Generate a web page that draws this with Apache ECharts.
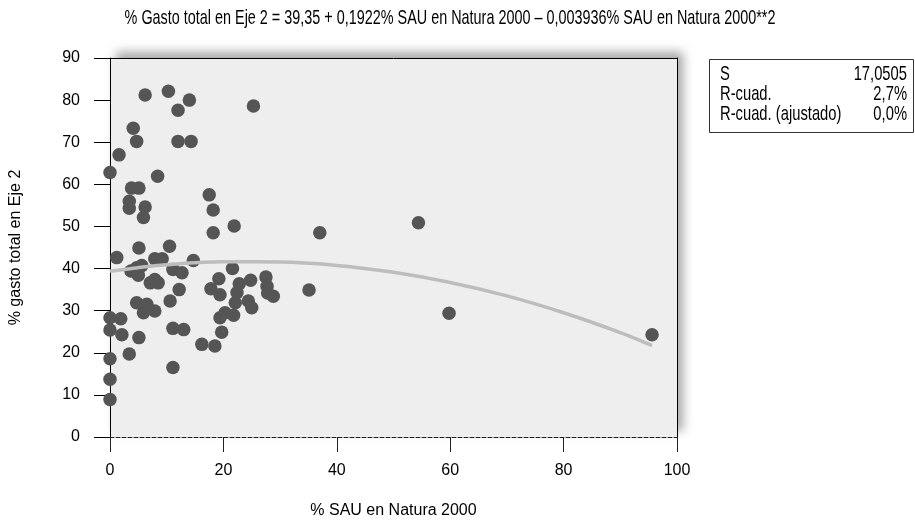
<!DOCTYPE html>
<html><head><meta charset="utf-8">
<script src="https://cdn.jsdelivr.net/npm/echarts@6/dist/echarts.min.js"></script>
<style>html,body{margin:0;padding:0;background:#fff}#c{width:915px;height:525px}</style>
</head><body><div id="c"></div>
<script>
// % SAU en Natura 2000 (x) and % gasto total en Eje 2 (y)
const sauNatura = [0, 1.6, 6.2, 10.3, 14.0, 12.0, 25.3, 4.1, 4.7, 12.0, 14.3, 8.4, 3.8, 5.1, 3.4, 3.4, 6.2, 5.9,
  17.5, 18.2, 21.9, 18.2, 37.0, 54.4, 59.8, 95.6, 35.1, 1.2, 5.1, 10.5, 7.9, 9.2, 14.7, 3.7, 4.7, 5.6, 5.0,
  11.1, 12.7, 7.1, 8.5, 7.9, 12.2, 10.6, 4.7, 6.5, 5.9, 7.9, 0, 1.9, 0, 2.1, 5.1, 11.1, 13.0, 3.4, 0, 0, 0,
  11.1, 16.2, 18.5, 21.6, 19.2, 17.8, 19.4, 22.8, 24.8, 27.5, 27.7, 27.8, 28.8, 22.4, 22.1, 24.4, 25.0,
  20.3, 19.4, 21.8, 19.7];
const gastoEje2 = [62.8, 67.0, 81.2, 82.1, 80.0, 77.6, 78.6, 73.3, 70.2, 70.2, 70.2, 61.9, 59.1, 59.1, 56.0, 54.3, 54.6, 52.1,
  57.5, 53.9, 50.1, 48.5, 48.5, 50.9, 29.4, 24.3, 34.9, 42.6, 44.9, 45.3, 42.3, 42.3, 41.9, 39.4, 40.2, 40.7, 38.4,
  39.8, 39.0, 36.6, 36.6, 37.4, 35.0, 32.3, 31.9, 31.5, 29.5, 29.9, 28.3, 28.1, 25.4, 24.3, 23.6, 25.8, 25.5, 19.7, 18.6, 13.7, 8.9,
  16.5, 22.0, 21.6, 40.0, 37.6, 35.2, 33.8, 36.4, 37.2, 38.0, 35.8, 34.2, 33.4, 34.3, 31.9, 32.3, 30.7,
  29.5, 28.3, 28.9, 24.9];
// fitted curve
const fitX = [0, 10, 20, 30, 40, 50, 60, 70, 80, 90, 95.6];
const fitY = [39.35, 40.9, 41.6, 41.55, 40.75, 39.1, 36.7, 33.5, 29.5, 24.8, 21.75];
const statLabels = ['S', 'R-cuad.', 'R-cuad. (ajustado)'];
const statValues = ['17,0505', '2,7%', '0,0%'];
const titleText = '% Gasto total en Eje 2 = 39,35 + 0,1922% SAU en Natura 2000 \u2013 0,003936% SAU en Natura 2000**2';
const xName = '% SAU en Natura 2000';
const yName = '% gasto total en Eje 2';

const FONT = "'Liberation Sans', Arial, sans-serif";
const chart = echarts.init(document.getElementById('c'), null, {renderer: 'canvas'});

const scatterData = sauNatura.map((x, i) => [x, gastoEje2[i]]);
const fitData = fitX.map((x, i) => [x, fitY[i]]);

const statGraphics = [{
  type: 'rect', left: 709, top: 59, z: 10,
  shape: {width: 204, height: 73},
  style: {fill: '#fff', stroke: '#333', lineWidth: 1}
}];
statLabels.forEach((t, i) => {
  statGraphics.push({type: 'text', x: 720, y: 75 + i * 20, z: 11, scaleX: 0.82, scaleY: 1.1,
    style: {text: t, font: "18px " + FONT, fill: '#000', verticalAlign: 'middle', align: 'left'}});
  statGraphics.push({type: 'text', x: 907, y: 75 + i * 20, z: 11, scaleX: 0.82, scaleY: 1.1,
    style: {text: statValues[i], font: "18px " + FONT, fill: '#000', verticalAlign: 'middle', align: 'right'}});
});

const option = {
  animation: false,
  backgroundColor: '#fff',
  textStyle: {fontFamily: FONT},
  graphic: [{
    type: 'text', x: 450, y: 18, z: 10, scaleX: 0.8, scaleY: 1.12,
    style: {text: titleText, font: "18px " + FONT, fill: '#000', align: 'center', verticalAlign: 'middle'}
  }].concat(statGraphics),
  grid: {
    left: 110, right: 238, top: 58, bottom: 88,
    show: true, backgroundColor: '#eeeeee', borderWidth: 0,
    shadowColor: 'rgba(0,0,0,0.35)', shadowBlur: 10, shadowOffsetX: 6, shadowOffsetY: -6
  },
  xAxis: [{
    type: 'value', min: 0, max: 100, interval: 20, position: 'bottom',
    axisLine: {show: true, onZero: false, lineStyle: {color: '#222', width: 1, type: [4, 2]}},
    axisTick: {show: true, length: 15, lineStyle: {color: '#222'}},
    axisLabel: {margin: 26, fontSize: 16, color: '#000', fontFamily: FONT},
    splitLine: {show: false},
    name: xName, nameLocation: 'middle', nameGap: 66,
    nameTextStyle: {fontSize: 16, color: '#000', fontFamily: FONT}
  }, {
    type: 'value', min: 0, max: 100, position: 'top',
    axisLine: {show: true, onZero: false, lineStyle: {color: '#000', width: 1}},
    axisTick: {show: false}, axisLabel: {show: false}, splitLine: {show: false}
  }],
  yAxis: [{
    type: 'value', min: 0, max: 90, interval: 10, position: 'left',
    axisLine: {show: true, onZero: false, lineStyle: {color: '#000', width: 1}},
    axisTick: {show: true, length: 16, lineStyle: {color: '#000'}},
    axisLabel: {margin: 30, fontSize: 16, color: '#000', fontFamily: FONT},
    splitLine: {show: false},
    name: yName, nameLocation: 'middle', nameRotate: 90, nameGap: 86,
    nameTextStyle: {fontSize: 16, color: '#000', fontFamily: FONT}
  }, {
    type: 'value', min: 0, max: 90, position: 'right',
    axisLine: {show: true, onZero: false, lineStyle: {color: '#000', width: 1}},
    axisTick: {show: false}, axisLabel: {show: false}, splitLine: {show: false}
  }],
  series: [{
    type: 'scatter', xAxisIndex: 0, yAxisIndex: 0, data: scatterData,
    symbol: 'circle', symbolSize: 13.5,
    itemStyle: {color: '#555555', opacity: 1},
    z: 3
  }, {
    type: 'line', xAxisIndex: 0, yAxisIndex: 0, data: fitData, smooth: 0.4,
    showSymbol: false, symbol: 'none',
    lineStyle: {color: '#bdbdbd', width: 3.5},
    z: 4
  }]
};
chart.setOption(option);
</script>
</body></html>
